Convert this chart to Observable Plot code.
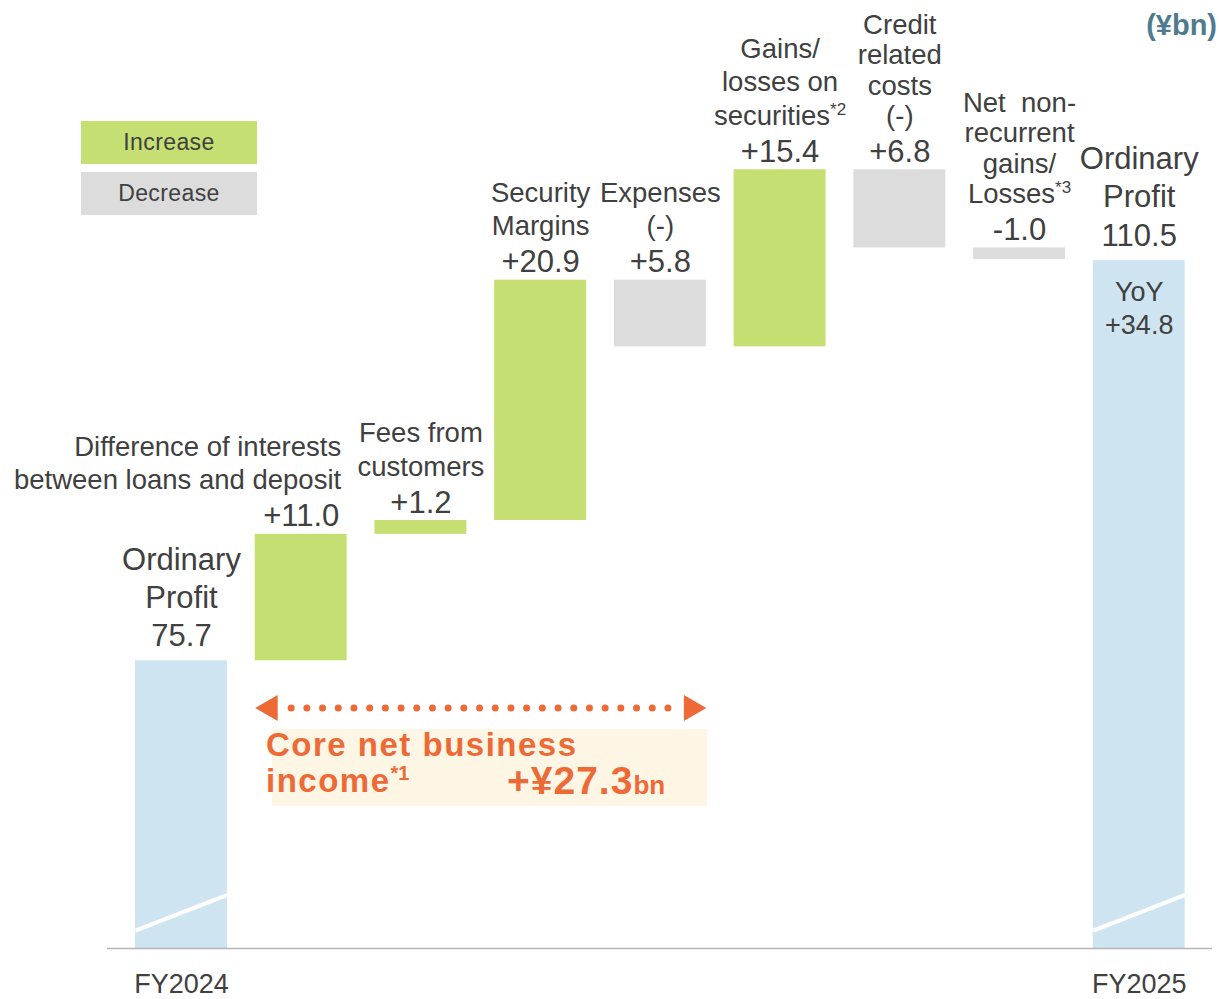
<!DOCTYPE html>
<html>
<head>
<meta charset="utf-8">
<script src="https://cdn.jsdelivr.net/npm/d3@7"></script>
<script src="https://cdn.jsdelivr.net/npm/@observablehq/plot@0.6"></script>
<style>
  body { margin: 0; background: #fff; font-family: "Liberation Sans", Arial, sans-serif; color: #404040; }
  #wrap { position: relative; width: 1219px; height: 999px; overflow: hidden; }
  #chart { position: absolute; left: 0; top: 0; }
  .leg { position: absolute; left: 81px; width: 176px; height: 43px; line-height: 43px; text-align: center; font-size: 23px; letter-spacing: 0.4px; color: #404040; }
  #unit { position: absolute; right: 2px; top: 9px; font-size: 29px; font-weight: bold; color: #4f7b8e; }
  #corebox { position: absolute; left: 272px; top: 729px; width: 435px; height: 77px; background: #fef6e5; }
  #coretext { position: absolute; left: 266px; top: 727px; width: 460px; font-weight: bold; color: #ed6a37; font-size: 33px; line-height: 36px; letter-spacing: 1.5px; }
  #coretext .l2 { position: relative; height: 36px; }
  #coretext sup { font-size: 20px; line-height: 1; vertical-align: 0; position: relative; top: -12px; letter-spacing: 0; }
  #coretext .amt { position: absolute; left: 241px; top: 0; font-size: 39px; letter-spacing: 1px; }
  #coretext .amt small { font-size: 26px; letter-spacing: 0; }
</style>
</head>
<body>
<div id="wrap">
  <div id="chart"></div>
  <div id="legend"></div>
  <div id="unit">(¥bn)</div>
  <div id="corebox"></div>
  <div id="coretext"></div>
</div>
<script>
// ---------------- data ----------------
const categories = [
  "FY2024",
  "Difference of interests between loans and deposit",
  "Fees from customers",
  "Security Margins",
  "Expenses",
  "Gains/losses on securities",
  "Credit related costs",
  "Net non-recurrent gains/Losses",
  "FY2025"
];
const categoryLabels = [
  "Ordinary\nProfit",
  "Difference of interests\nbetween loans and deposit",
  "Fees from\ncustomers",
  "Security\nMargins",
  "Expenses\n(-)",
  "Gains/\nlosses on\nsecurities*2",
  "Credit\nrelated\ncosts\n(-)",
  "Net\u00a0 non-\nrecurrent\ngains/\nLosses*3",
  "Ordinary\nProfit"
];
const changes = [75.7, 11.0, 1.2, 20.9, -5.8, 15.4, -6.8, -1.0, 110.5];
const kinds = ["total", "increase", "increase", "increase", "decrease", "increase", "decrease", "decrease", "total"];
const valueLabels = ["75.7", "+11.0", "+1.2", "+20.9", "+5.8", "+15.4", "+6.8", "-1.0", "110.5"];
const axisLabels = ["FY2024", "", "", "", "", "", "", "", "FY2025"];
const legendItems = ["Increase", "Decrease"];
const coreLabel = ["Core net business", "income", "*1"];
const coreValue = 27.3;
const coreRange = [1, 4]; // bars covered by core net business income

// ---------------- styles ----------------
const fills = { total: "#cfe4f1", increase: "#c5df72", decrease: "#dcdcdc" };
const ink = "#404040";
const orange = "#ed6a37";
const hw = 0.384;            // half bar width, in band units
const breakLow = 10, breakHigh = 30; // axis-break mark on total bars
const arrowLevel = 71.6;

// ---------------- build ----------------
let run = 0;
const data = categories.map((c, i) => {
  const v = changes[i], k = kinds[i];
  let y1, y2;
  if (k === "total") { y1 = 0; y2 = v; run = v; }
  else { y1 = run; y2 = run + v; run = y2; }
  return { i, category: c, label: categoryLabels[i], value: v, valueLabel: valueLabels[i], kind: k, y1, y2, top: Math.max(y1, y2) };
});
const totals = data.filter(d => d.kind === "total");
const steps = data.filter(d => d.kind !== "total");
const tight = new Set([6, 7]);
const first = totals[0], last = totals[totals.length - 1];
const yoy = "+" + (last.value - first.value).toFixed(1);

const arrowStart = coreRange[0] - hw, arrowEnd = coreRange[1] + hw;

const plot = Plot.plot({
  width: 1219,
  height: 999,
  marginLeft: 107,
  marginRight: 7,
  marginTop: 0,
  marginBottom: 51,
  style: { fontFamily: "'Liberation Sans', Arial, sans-serif", color: ink, background: "transparent" },
  x: { type: "linear", domain: [-0.618, 8.612], axis: null },
  y: { type: "linear", domain: [0, 60, 133.12], range: [948, 840.85, 0], axis: null },
  marks: [
    Plot.rectY(data, { x1: d => d.i - hw, x2: d => d.i + hw, y1: "y1", y2: "y2", fill: d => fills[d.kind] }),
    Plot.link(totals, { x1: d => d.i - hw, x2: d => d.i + hw, y1: () => breakLow, y2: () => breakHigh, stroke: "white", strokeWidth: 4 }),
    Plot.ruleY([0], { stroke: "#b5b5b5", strokeWidth: 1.5 }),
    // step values
    Plot.text(steps, { x: "i", y: "top", text: "valueLabel", fontSize: 31, lineAnchor: "bottom", dy: -8, fill: ink }),
    // step category labels
    Plot.text(steps.filter(d => d.i !== 1 && !tight.has(d.i)), { x: "i", y: "top", text: "label", fontSize: 27.5, lineHeight: 1.22, lineAnchor: "bottom", dy: -45, fill: ink }),
    Plot.text(steps.filter(d => tight.has(d.i)), { x: "i", y: "top", text: "label", fontSize: 27.5, lineHeight: 1.1, lineAnchor: "bottom", dy: -45, fill: ink }),
    Plot.text(steps.filter(d => d.i === 1), { x: d => d.i + hw, y: "top", text: "label", fontSize: 27.5, lineHeight: 1.22, lineAnchor: "bottom", textAnchor: "end", dx: -6, dy: -45, fill: ink }),
    // totals
    Plot.text(totals, { x: "i", y: "top", text: d => d.label + "\n" + d.valueLabel, fontSize: 31, lineHeight: 1.23, lineAnchor: "bottom", dy: -15, fill: ink }),
    Plot.text([last], { x: "i", y: "top", text: () => "YoY\n" + yoy, fontSize: 27, lineHeight: 1.22, lineAnchor: "top", dy: 17, fill: ink }),
    // axis labels
    Plot.text(totals, { x: "i", y: () => 0, text: d => axisLabels[d.i], fontSize: 27, lineAnchor: "middle", dy: 36, fill: ink }),
    // core net business income arrow
    Plot.link([0], { x1: () => arrowStart + 0.30, x2: () => arrowEnd - 0.22, y1: () => arrowLevel, y2: () => arrowLevel, stroke: orange, strokeWidth: 7, strokeLinecap: "round", strokeDasharray: "0 15.7" }),
    Plot.dot([{ x: arrowStart + 0.125, r: -90 }, { x: arrowEnd - 0.125, r: 90 }], { x: "x", y: () => arrowLevel, symbol: "triangle", r: 9.65, fill: orange, stroke: "none", rotate: "r" })
  ]
});

// superscripts like "*2"
const walker = document.createTreeWalker(plot, NodeFilter.SHOW_TEXT);
const hits = [];
while (walker.nextNode()) { if (/\*\d$/.test(walker.currentNode.nodeValue)) hits.push(walker.currentNode); }
for (const t of hits) {
  const m = t.nodeValue.match(/^(.*)(\*\d)$/);
  const sup = document.createElementNS("http://www.w3.org/2000/svg", "tspan");
  sup.setAttribute("font-size", "17");
  sup.setAttribute("dy", "-10");
  sup.textContent = m[2];
  t.nodeValue = m[1];
  t.parentNode.insertBefore(sup, t.nextSibling);
}
document.getElementById("chart").appendChild(plot);

// legend
const legend = document.getElementById("legend");
legendItems.forEach((name, j) => {
  const el = document.createElement("div");
  el.className = "leg";
  el.style.top = (121 + j * 51) + "px";
  el.style.background = fills[name.toLowerCase()];
  el.textContent = name;
  legend.appendChild(el);
});

// core annotation text
const core = document.getElementById("coretext");
core.innerHTML = "";
const l1 = document.createElement("div"); l1.textContent = coreLabel[0]; core.appendChild(l1);
const l2 = document.createElement("div"); l2.className = "l2";
l2.appendChild(document.createTextNode(coreLabel[1]));
const sp = document.createElement("sup"); sp.textContent = coreLabel[2]; l2.appendChild(sp);
const amt = document.createElement("span"); amt.className = "amt";
amt.appendChild(document.createTextNode("+¥" + coreValue.toFixed(1)));
const sm = document.createElement("small"); sm.textContent = "bn"; amt.appendChild(sm);
l2.appendChild(amt);
core.appendChild(l2);
</script>
</body>
</html>
